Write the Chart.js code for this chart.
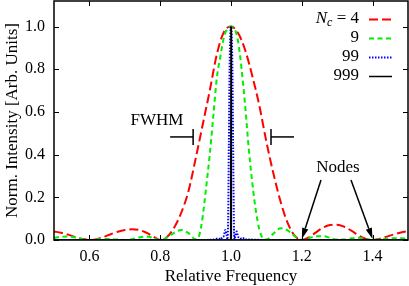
<!DOCTYPE html>
<html>
<head>
<meta charset="utf-8">
<script src="https://cdn.jsdelivr.net/npm/chart.js@4.4.0/dist/chart.umd.min.js"></script>
<style>
  html, body { margin: 0; padding: 0; background: #fff; }
</style>
</head>
<body>
<canvas id="c" width="409" height="286"></canvas>
<script>
// ---- data ----
const freq4 = [0.50,0.52,0.54,0.56,0.58,0.60,0.62,0.64,0.66,0.68,0.70,0.72,0.74,0.76,0.78,0.80,
  0.82,0.84,0.86,0.88,0.90,0.92,0.94,0.96,0.98,1.00,
  1.02,1.04,1.06,1.08,1.10,1.12,1.14,1.16,1.18,1.20,
  1.22,1.24,1.26,1.28,1.30,1.32,1.34,1.36,1.38,1.40,
  1.42,1.44,1.46,1.48,1.50];
const int4 = [0.040,0.034,0.025,0.014,0.005,0.000,0.004,0.014,0.027,0.039,0.047,0.050,0.047,0.035,0.017,0.000,
  0.015,0.06,0.13,0.23,0.38,0.54,0.70,0.87,0.975,1.00,
  0.97,0.89,0.77,0.63,0.46,0.31,0.18,0.08,0.02,0.000,
  0.012,0.036,0.058,0.070,0.072,0.062,0.044,0.022,0.006,0.000,
  0.006,0.016,0.026,0.035,0.042];

const freq9 = [0.50,0.52,0.54,0.56,0.58,0.60,0.62,0.64,0.66,0.68,0.70,0.72,0.74,0.76,0.78,0.80,0.82,0.84,0.86,0.88,0.90,
  0.91,0.92,0.93,0.94,0.95,0.96,0.97,0.98,0.99,1.00,1.01,1.02,1.03,1.04,1.05,1.06,1.07,1.08,1.09,1.10,
  1.12,1.14,1.16,1.18,1.20,1.22,1.24,1.26,1.28,1.30,1.32,1.34,1.36,1.38,1.40,1.42,1.44,1.46,1.48,1.50];
const int9 = [0.010,0.015,0.016,0.012,0.005,0.000,0.003,0.005,0.004,0.002,0.000,0.004,0.012,0.016,0.010,0.000,0.012,0.035,0.047,0.032,0.003,
  0.02,0.11,0.25,0.40,0.58,0.76,0.86,0.95,0.99,1.00,0.99,0.93,0.80,0.63,0.43,0.27,0.14,0.05,0.008,0.002,
  0.03,0.055,0.045,0.018,0.000,0.008,0.018,0.018,0.010,0.002,0.002,0.008,0.011,0.006,0.000,0.003,0.007,0.008,0.008,0.007];

const freq99 = [0.50,0.90,0.95,0.965,0.97,0.975,0.98,0.984,0.988,0.990,
  0.992,0.994,0.996,0.998,1.000,1.002,1.004,1.006,1.008,1.010,
  1.012,1.016,1.020,1.025,1.030,1.035,1.040,1.050,1.100,1.500];
const int99 = [0,0,0.002,0.008,0.002,0.012,0.02,0.047,0.02,0.003,
  0.1,0.45,0.8,0.96,1.0,0.96,0.8,0.45,0.1,0.003,
  0.02,0.04,0.015,0.012,0.004,0.008,0.002,0.002,0,0];

const freq999 = [0.5, 0.999, 1.0, 1.001, 1.5];
const int999 = [0, 0, 1, 0, 0];

const seriesLabels = ['4', '9', '99', '999'];
const xTicks = [0.6, 0.8, 1.0, 1.2, 1.4];
const yTicks = [0.0, 0.2, 0.4, 0.6, 0.8, 1.0];
const nodeFreqs = [1.2, 1.4];

const toXY = (xs, ys) => xs.map((v, i) => ({ x: v, y: ys[i] }));

// ---- styles ----
const SERIF = '"Liberation Serif", "Times New Roman", serif';
const styles = [
  { color: '#ff0000', width: 2, dash: [9, 4] },
  { color: '#00ee00', width: 2, dash: [5, 3.5] },
  { color: '#0000ff', width: 2, dash: [1.5, 1.5] },
  { color: '#000000', width: 1.5, dash: [] },
];

const fwhm = { left: 0.893, right: 1.113, level: 0.483, arm: 23, half: 8 };

function seg(ctx, x1, y1, x2, y2) {
  ctx.beginPath(); ctx.moveTo(x1, y1); ctx.lineTo(x2, y2); ctx.stroke();
}

function arrow(ctx, x1, y1, x2, y2) {
  const ang = Math.atan2(y2 - y1, x2 - x1);
  const len = 11, w = 3.2;
  const bx = x2 - len * Math.cos(ang), by = y2 - len * Math.sin(ang);
  seg(ctx, x1, y1, bx, by);
  ctx.beginPath();
  ctx.moveTo(x2, y2);
  ctx.lineTo(bx + w * Math.sin(ang), by - w * Math.cos(ang));
  ctx.lineTo(bx - w * Math.sin(ang), by + w * Math.cos(ang));
  ctx.closePath();
  ctx.fill();
}

const decorations = {
  id: 'decorations',
  afterDatasetsDraw(chart) {
    const { ctx, chartArea: a, scales: { x, y } } = chart;
    ctx.save();
    ctx.strokeStyle = '#000';
    ctx.fillStyle = '#000';

    // inward tick marks
    ctx.lineWidth = 1;
    xTicks.forEach(v => {
      const px = Math.round(x.getPixelForValue(v)) + 0.5;
      seg(ctx, px, a.bottom, px, a.bottom - 5);
      seg(ctx, px, a.top, px, a.top + 5);
    });
    yTicks.forEach(v => {
      const py = Math.round(y.getPixelForValue(v)) + 0.5;
      seg(ctx, a.left, py, a.left + 5, py);
      seg(ctx, a.right, py, a.right - 5, py);
    });

    // frame
    ctx.lineWidth = 1.5;
    ctx.strokeRect(a.left, a.top, a.right - a.left, a.bottom - a.top);

    // FWHM markers
    const fy = y.getPixelForValue(fwhm.level);
    const lx = x.getPixelForValue(fwhm.left), rx = x.getPixelForValue(fwhm.right);
    ctx.lineWidth = 1.5;
    seg(ctx, lx - fwhm.arm, fy, lx, fy);
    seg(ctx, lx, fy - fwhm.half, lx, fy + fwhm.half);
    seg(ctx, rx, fy, rx + fwhm.arm, fy);
    seg(ctx, rx, fy - fwhm.half, rx, fy + fwhm.half);

    ctx.font = '17px ' + SERIF;
    ctx.textAlign = 'center';
    ctx.textBaseline = 'middle';
    ctx.fillText('FWHM', 157, 121);

    // Nodes
    ctx.fillText('Nodes', 338, 168);
    const tails = [[321, 180], [351, 180]];
    nodeFreqs.forEach((f, i) => {
      arrow(ctx, tails[i][0], tails[i][1], x.getPixelForValue(f), y.getPixelForValue(0) - 1);
    });

    // legend
    const textRight = 359, lineX1 = 369, lineX2 = 392;
    seriesLabels.forEach((lab, i) => {
      const cy = 19 + 19 * i;
      ctx.textAlign = 'left';
      ctx.textBaseline = 'middle';
      if (i === 0) {
        ctx.font = '17px ' + SERIF;
        const tail = ' = ' + lab;
        const wt = ctx.measureText(tail).width;
        ctx.font = 'italic 12px ' + SERIF;
        const wc = ctx.measureText('c').width;
        ctx.font = 'italic 17px ' + SERIF;
        const wn = ctx.measureText('N').width;
        let sx = textRight - wt - wc - wn;
        ctx.fillText('N', sx, cy);
        ctx.font = 'italic 12px ' + SERIF;
        ctx.fillText('c', sx + wn, cy + 4);
        ctx.font = '17px ' + SERIF;
        ctx.fillText(tail, sx + wn + wc, cy);
      } else {
        ctx.font = '17px ' + SERIF;
        ctx.textAlign = 'right';
        ctx.fillText(lab, textRight, cy);
      }
      const st = styles[i];
      ctx.strokeStyle = st.color;
      ctx.lineWidth = st.width;
      ctx.setLineDash(st.dash);
      seg(ctx, lineX1, cy + 0.5, lineX2, cy + 0.5);
      ctx.setLineDash([]);
      ctx.strokeStyle = '#000';
    });
    ctx.restore();
  }
};

const series = [toXY(freq4, int4), toXY(freq9, int9), toXY(freq99, int99), toXY(freq999, int999)];

new Chart(document.getElementById('c'), {
  type: 'line',
  data: {
    datasets: series.map((d, i) => ({
      label: seriesLabels[i],
      data: d,
      borderColor: styles[i].color,
      borderWidth: styles[i].width,
      borderDash: styles[i].dash,
      pointRadius: 0,
      fill: false,
      cubicInterpolationMode: i === 3 ? 'default' : 'monotone',
      tension: i === 3 ? 0 : 0.4,
      order: 4 - i,
    })),
  },
  options: {
    responsive: false,
    animation: false,
    layout: { padding: { top: 1, right: 1, left: 0, bottom: 0 } },
    plugins: { legend: { display: false }, tooltip: { enabled: false } },
    scales: {
      x: {
        type: 'linear',
        min: 0.5,
        max: 1.5,
        grid: { display: false, drawTicks: false },
        border: { display: false },
        afterBuildTicks: s => { s.ticks = xTicks.map(v => ({ value: v })); },
        afterFit: s => { s.height = 46; s.paddingLeft = 0; s.paddingRight = 0; },
        ticks: {
          autoSkip: false, maxRotation: 0, padding: 7, color: '#000',
          font: { family: SERIF, size: 16 },
          callback: v => Number(v).toFixed(1),
        },
        title: {
          display: true, text: 'Relative Frequency', color: '#000',
          font: { family: SERIF, size: 17 }, padding: { top: 0, bottom: -1 },
        },
      },
      y: {
        type: 'linear',
        min: 0,
        max: 1.12,
        grid: { display: false, drawTicks: false },
        border: { display: false },
        afterBuildTicks: s => { s.ticks = yTicks.map(v => ({ value: v })); },
        afterFit: s => { s.width = 54; s.paddingTop = 0; s.paddingBottom = 0; },
        ticks: {
          autoSkip: false, padding: 9, color: '#000',
          font: { family: SERIF, size: 16 },
          callback: v => Number(v).toFixed(1),
        },
        title: {
          display: true, text: 'Norm. Intensity [Arb. Units]', color: '#000',
          font: { family: SERIF, size: 17 }, padding: { top: 2, bottom: 0 },
        },
      },
    },
  },
  plugins: [decorations],
});
</script>
</body>
</html>
